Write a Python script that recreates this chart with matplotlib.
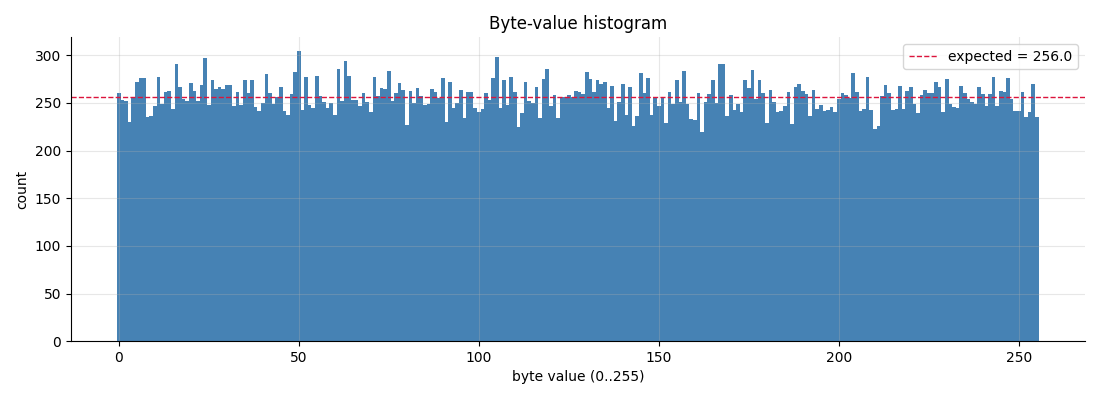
import numpy as np
import matplotlib
matplotlib.use("Agg")
import matplotlib.pyplot as plt

byte_values = list(range(256))
counts = [
    260, 253, 252, 230, 256, 272, 276, 276, 235, 236, 247, 277, 249, 262, 263, 244,
    291, 267, 254, 252, 271, 263, 252, 269, 297, 248, 274, 265, 267, 265, 269, 269,
    247, 261, 248, 274, 260, 274, 246, 242, 250, 280, 260, 249, 256, 267, 242, 237,
    259, 282, 304, 243, 277, 248, 245, 278, 257, 251, 245, 250, 237, 286, 252, 294,
    278, 253, 253, 247, 260, 251, 241, 277, 257, 266, 265, 283, 252, 260, 271, 264,
    227, 263, 250, 266, 257, 248, 249, 265, 262, 255, 276, 230, 272, 245, 250, 264,
    234, 262, 261, 245, 241, 244, 260, 253, 276, 298, 245, 274, 248, 277, 262, 225,
    239, 272, 252, 250, 267, 234, 275, 286, 247, 258, 234, 256, 256, 258, 256, 263,
    261, 259, 282, 275, 261, 274, 270, 272, 245, 268, 231, 251, 270, 237, 267, 226,
    236, 281, 260, 276, 237, 255, 247, 255, 229, 261, 249, 274, 251, 284, 249, 233,
    232, 260, 219, 251, 259, 274, 250, 291, 291, 236, 258, 243, 249, 240, 274, 266,
    285, 254, 274, 260, 229, 264, 251, 241, 242, 247, 262, 228, 267, 270, 263, 259,
    236, 264, 244, 248, 242, 243, 246, 240, 254, 260, 258, 255, 281, 262, 242, 244,
    277, 243, 223, 226, 257, 269, 260, 243, 244, 268, 244, 263, 267, 249, 239, 258,
    264, 260, 260, 272, 267, 240, 275, 249, 246, 245, 268, 260, 254, 251, 249, 267,
    259, 247, 259, 277, 247, 263, 261, 276, 254, 242, 242, 262, 235, 241, 270, 235,
]
expected = 256.0

fig = plt.figure(figsize=(11, 4), dpi=100)
ax = fig.add_axes([0.0645, 0.147, 0.9215, 0.7605])
ax.bar(byte_values, counts, width=1.0, color="steelblue")
ax.axhline(expected, color="crimson", linestyle="--", linewidth=1,
           label=f"expected = {expected}")
ax.set_title("Byte-value histogram")
ax.set_xlabel("byte value (0..255)")
ax.set_ylabel("count")
ax.grid(True, alpha=0.3)
ax.spines["top"].set_visible(False)
ax.spines["right"].set_visible(False)
ax.legend(loc="upper right")
fig.savefig("out.png", dpi=100)
